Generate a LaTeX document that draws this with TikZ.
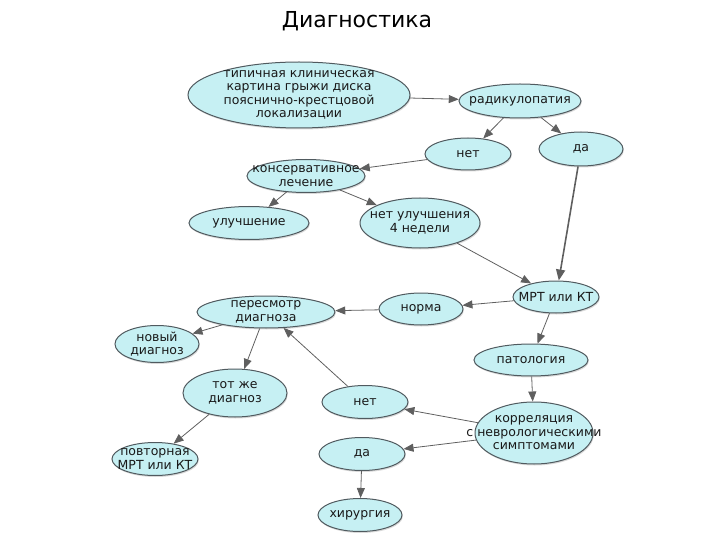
\documentclass[tikz,border=0pt]{standalone}
\usepackage{fontspec}
\setmainfont{DejaVu Sans}
\usetikzlibrary{shapes.geometric,arrows.meta,shadows}
\definecolor{nodefill}{RGB}{198,240,243}
\definecolor{nodeedge}{RGB}{80,90,95}
\definecolor{arrowcol}{RGB}{95,95,95}
\tikzset{
  bub/.style={ellipse,draw=nodeedge,line width=1pt,fill=nodefill,inner sep=0pt,
    drop shadow={shadow xshift=0.8pt,shadow yshift=-1.5pt,opacity=0.3}},
  lab/.style={align=center,inner sep=0pt,font=\fontsize{12.5}{13.5}\selectfont,text=black!90},
  conn/.style={draw=arrowcol,line width=0.8pt,-{Triangle[length=10pt,width=8pt]}},
  thickconn/.style={conn,line width=1.6pt,-{Triangle[length=11pt,width=9pt]}}
}
\newcommand\mybubble[5]{\node[bub,minimum width=#3,minimum height=#4,label={[lab]center:{#5}}] (#1) at (#2) {};}
\begin{document}
\begin{tikzpicture}[x=1pt,y=-1pt]
\useasboundingbox (0,0) rectangle (720,540);
\node[font=\fontsize{22}{26}\selectfont,inner sep=0pt] (title) at (357,21) {Диагностика};

\mybubble{typ}{299,95}{222}{66}{типичная клиническая\\картина грыжи диска\\пояснично-крестцовой\\локализации}
\mybubble{rad}{520,101}{122}{34}{радикулопатия}
\mybubble{net1}{468,154}{86}{32}{нет}
\mybubble{da1}{581,149}{84}{34}{да}
\mybubble{kons}{306,176}{118}{33}{консервативное\\лечение}
\mybubble{ulu}{249,223}{120}{33}{улучшение}
\mybubble{netu}{420,223}{120}{50}{нет улучшения\\4 недели}
\mybubble{mrt}{556,297}{86}{32}{МРТ или КТ}
\mybubble{norm}{421,309}{84}{32}{норма}
\mybubble{peres}{266,312}{138}{32}{пересмотр\\диагноза}
\mybubble{novy}{157,344}{84}{37}{новый\\диагноз}
\mybubble{pat}{531,360}{114}{32}{патология}
\mybubble{tot}{235,393}{104}{48}{тот же\\диагноз}
\mybubble{net2}{365,402}{86}{33}{нет}
\mybubble{korr}{534,433}{118}{62}{корреляция\\с неврологическими\\симптомами}
\mybubble{povt}{155,459}{86}{33}{повторная\\МРТ или КТ}
\mybubble{da2}{362,454}{86}{33}{да}
\mybubble{hir}{360,515}{84}{33}{хирургия}

\draw[conn] (typ) -- (rad);
\draw[conn] (rad) -- (net1);
\draw[conn] (rad) -- (da1);
\draw[conn] (net1) -- (kons);
\draw[conn] (kons) -- (ulu);
\draw[conn] (kons) -- (netu);
\draw[conn] (netu) -- (mrt);
\draw[thickconn] (da1) -- (mrt);
\draw[conn] (mrt) -- (norm);
\draw[conn] (norm) -- (peres);
\draw[conn] (peres) -- (novy);
\draw[conn] (peres) -- (tot);
\draw[conn] (tot) -- (povt);
\draw[conn] (mrt) -- (pat);
\draw[conn] (pat) -- (korr);
\draw[conn] (korr) -- (net2);
\draw[conn] (korr) -- (da2);
\draw[conn] (net2) -- (peres);
\draw[conn] (da2) -- (hir);
\end{tikzpicture}
\end{document}
